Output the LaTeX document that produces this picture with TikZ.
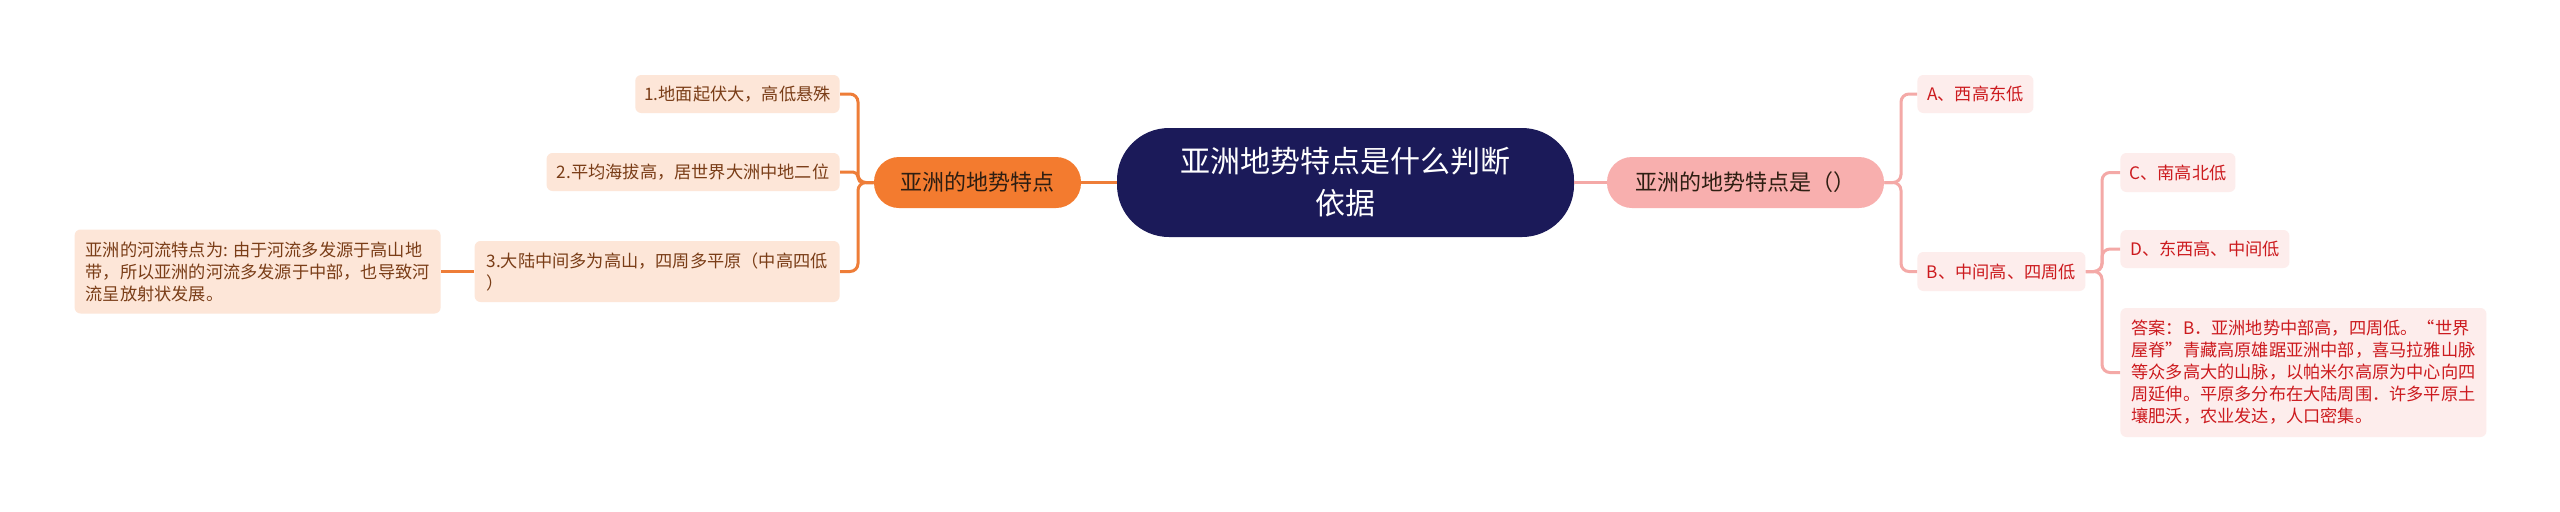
\documentclass[tikz,border=0pt]{standalone}
\usepackage{fontspec}
\setmainfont{Noto Sans CJK SC}

\definecolor{rootblue}{HTML}{1B1A59}
\definecolor{orangemain}{HTML}{F37B2F}
\definecolor{orangeline}{HTML}{EE7D38}
\definecolor{peach}{HTML}{FDE6D8}
\definecolor{browntext}{HTML}{7A3D17}
\definecolor{darktext}{HTML}{2E1E12}
\definecolor{pinkmain}{HTML}{F8AFAE}
\definecolor{pinkline}{HTML}{F4A9A7}
\definecolor{pinkleaf}{HTML}{FDEDEC}
\definecolor{redtext}{HTML}{CC1A1E}

\begin{document}
\begin{tikzpicture}[x=0.5pt, y=-0.5pt,
    root/.style = {fill=rootblue, text=white, rounded corners=26pt, align=center,
        minimum width=228.5pt, minimum height=54.5pt, font=\fontsize{15}{21}\selectfont},
    mainbox/.style = {rounded corners=12.5pt, minimum height=25.5pt, font=\fontsize{11}{13}\selectfont},
    leaf/.style = {rounded corners=3pt, inner xsep=4.5pt, inner ysep=2pt, align=left,
        font=\fontsize{8.6}{11}\selectfont},
    lleaf/.style = {leaf, fill=peach, text=browntext},
    rleaf/.style = {leaf, fill=pinkleaf, text=redtext},
    lline/.style = {draw=orangeline, line width=1.5pt, rounded corners=4pt},
    rline/.style = {draw=pinkline, line width=1.5pt, rounded corners=4pt}]
    \path[use as bounding box, fill=white] (0,0) rectangle (2560,511);

    % centre
    \node[root] (root) at (1345.5,182.5) {亚洲地势特点是什么判断\\依据};

    % left side
    \node[mainbox, fill=orangemain, text=darktext, minimum width=103.5pt] (lmain) at (977.5,182.5) {亚洲的地势特点};
    \node[lleaf, anchor=east, minimum width=101pt, minimum height=19pt] (n1) at (840,94) {1.地面起伏大，高低悬殊};
    \node[lleaf, anchor=east, minimum width=146.5pt, minimum height=19pt] (n2) at (840,172) {2.平均海拔高，居世界大洲中地二位};
    \node[lleaf, anchor=east, minimum width=182.5pt, minimum height=30.5pt] (n3) at (840,271.5) {3.大陆中间多为高山，四周多平原（中高四低\\）};
    \node[lleaf, anchor=east, minimum width=183pt, minimum height=42pt] (river) at (441,271.5) {亚洲的河流特点为: 由于河流多发源于高山地\\带，所以亚洲的河流多发源于中部，也导致河\\流呈放射状发展。};

    % right side
    \node[mainbox, fill=pinkmain, text=darktext, minimum width=138.5pt] (rmain) at (1745.5,182.5) {亚洲的地势特点是（）};
    \node[rleaf, anchor=west, minimum width=58pt, minimum height=19pt] (optA) at (1917,94) {A、西高东低};
    \node[rleaf, anchor=west, minimum width=84pt, minimum height=19.5pt] (optB) at (1917,271.5) {B、中间高、四周低};
    \node[rleaf, anchor=west, minimum width=57.5pt, minimum height=19.5pt] (optC) at (2120,172.5) {C、南高北低};
    \node[rleaf, anchor=west, minimum width=84.5pt, minimum height=19pt] (optD) at (2120,249) {D、东西高、中间低};
    \node[rleaf, anchor=west, minimum width=183pt, minimum height=64.5pt] (answer) at (2120,372.5) {答案：B．亚洲地势中部高，四周低。“世界\\屋脊”青藏高原雄踞亚洲中部，喜马拉雅山脉\\等众多高大的山脉，以帕米尔高原为中心向四\\周延伸。平原多分布在大陆周围．许多平原土\\壤肥沃，农业发达，人口密集。};

    % connectors
    \coordinate (lj) at (858,182.5);
    \coordinate (rj) at (1901,182.5);
    \coordinate (bj) at (2102,271.5);
    \draw[lline] (root.west) -- (lmain.east);
    \draw[rline] (root.east) -- (rmain.west);
    \draw[lline] (lmain.west) -- (lj) |- (n1.east);
    \draw[lline, rounded corners=2.5pt] (lmain.west) -- (lj) |- (n2.east);
    \draw[lline] (lmain.west) -- (lj) |- (n3.east);
    \draw[lline] (n3.west) -- (river.east);
    \draw[rline] (rmain.east) -- (rj) |- (optA.west);
    \draw[rline] (rmain.east) -- (rj) |- (optB.west);
    \draw[rline] (optB.east) -- (bj) |- (optC.west);
    \draw[rline] (optB.east) -- (bj) |- (optD.west);
    \draw[rline] (optB.east) -- (bj) |- (answer.west);
\end{tikzpicture}
\end{document}
